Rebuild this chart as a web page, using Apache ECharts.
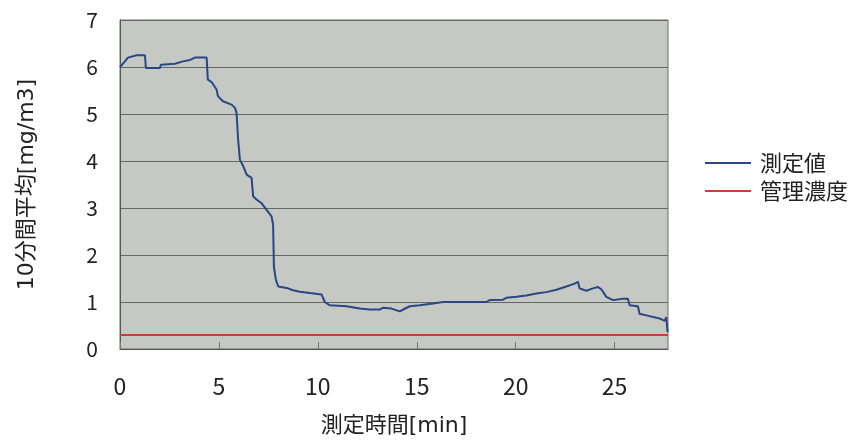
<!DOCTYPE html>
<html><head><meta charset="utf-8">
<script src="https://cdn.jsdelivr.net/npm/echarts@6/dist/echarts.min.js"></script>
<style>html,body{margin:0;padding:0;background:#fff}#c{width:867px;height:447px}</style>
</head><body><div id="c"></div>
<script>
const seriesNames = ['測定値', '管理濃度'];
const measuredTime = [0,0.25,0.40,0.84,1.26,1.31,2.02,2.07,2.78,3.18,3.54,3.79,4.38,4.44,4.63,4.88,4.95,5.20,5.64,5.81,5.89,5.97,6.06,6.23,6.40,6.65,6.73,6.90,7.16,7.41,7.66,7.74,7.78,7.88,8.0,8.42,8.75,9.09,9.60,10.19,10.35,10.61,11.45,12.12,12.63,13.13,13.30,13.72,14.14,14.31,14.65,15.15,15.82,16.33,18.52,18.69,19.36,19.53,20.04,20.54,21.05,21.55,22.06,22.56,22.98,23.15,23.23,23.57,23.90,24.16,24.33,24.58,24.92,25.42,25.67,25.76,26.18,26.26,26.77,27.27,27.53,27.61,27.68];
const measuredValue = [6.0,6.12,6.2,6.25,6.25,5.98,5.98,6.05,6.07,6.12,6.15,6.2,6.2,5.73,5.68,5.52,5.38,5.27,5.2,5.13,5.03,4.46,4.03,3.89,3.71,3.64,3.25,3.18,3.1,2.96,2.82,2.64,1.75,1.47,1.33,1.30,1.25,1.22,1.19,1.16,1.0,0.93,0.91,0.86,0.84,0.84,0.88,0.86,0.80,0.84,0.91,0.93,0.97,1.0,1.0,1.04,1.05,1.09,1.11,1.14,1.18,1.21,1.26,1.33,1.39,1.43,1.29,1.24,1.29,1.32,1.27,1.11,1.04,1.07,1.07,0.93,0.91,0.75,0.70,0.65,0.60,0.68,0.36];
const limitTime = [0, 27.7];
const limitValue = [0.3, 0.3];
const xMin = 0, xMax = 27.7, xStep = 5;
const yMin = 0, yMax = 7, yStep = 1;

const font = '"Noto Sans CJK JP","Noto Sans",sans-serif';
const titleFont = '"DejaVu Sans","Noto Sans CJK JP",sans-serif';
const chart = echarts.init(document.getElementById('c'));
chart.setOption({
  animation: false,
  backgroundColor: '#fff',
  grid: {left: 120, right: 199, top: 20, bottom: 98, show: true, backgroundColor: '#c6c8c4', borderColor: '#6f6f6f', borderWidth: 1},
  legend: {
    orient: 'vertical', left: 700, top: 147, itemGap: 6, itemWidth: 46, itemHeight: 2,
    icon: 'rect',
    textStyle: {fontFamily: font, fontSize: 22, color: '#222', padding: [0,0,0,4]},
    data: seriesNames
  },
  xAxis: {
    type: 'value', min: xMin, max: xMax, interval: xStep,
    name: '測定時間[min]', nameLocation: 'middle', nameGap: 66,
    nameTextStyle: {fontFamily: titleFont, fontSize: 22, color: '#222'},
    axisLine: {lineStyle: {color: '#555'}},
    axisTick: {inside: true, length: 7, lineStyle: {color: '#777'}},
    axisLabel: {fontFamily: font, fontSize: 23, color: '#222', margin: 26, showMaxLabel: false,
      formatter: v => (v % 5 === 0 ? String(v) : '')},
    splitLine: {show: false}
  },
  yAxis: {
    type: 'value', min: yMin, max: yMax, interval: yStep,
    name: '10分間平均[mg/m3]', nameLocation: 'middle', nameGap: 82, nameRotate: 90,
    nameTextStyle: {fontFamily: titleFont, fontSize: 22, color: '#222'},
    axisLine: {show: true, lineStyle: {color: '#555'}},
    axisTick: {show: false},
    axisLabel: {fontFamily: font, fontSize: 21, color: '#222', margin: 22},
    splitLine: {lineStyle: {color: '#666', width: 1}}
  },
  series: [
    {name: seriesNames[0], type: 'line', showSymbol: false, symbol: 'none',
     data: measuredTime.map((t, i) => [t, measuredValue[i]]),
     lineStyle: {color: '#284784', width: 2}, itemStyle: {color: '#284784'}},
    {name: seriesNames[1], type: 'line', showSymbol: false, symbol: 'none',
     data: limitTime.map((t, i) => [t, limitValue[i]]),
     lineStyle: {color: '#d23a3a', width: 2}, itemStyle: {color: '#d23a3a'}}
  ]
});
</script></body></html>
